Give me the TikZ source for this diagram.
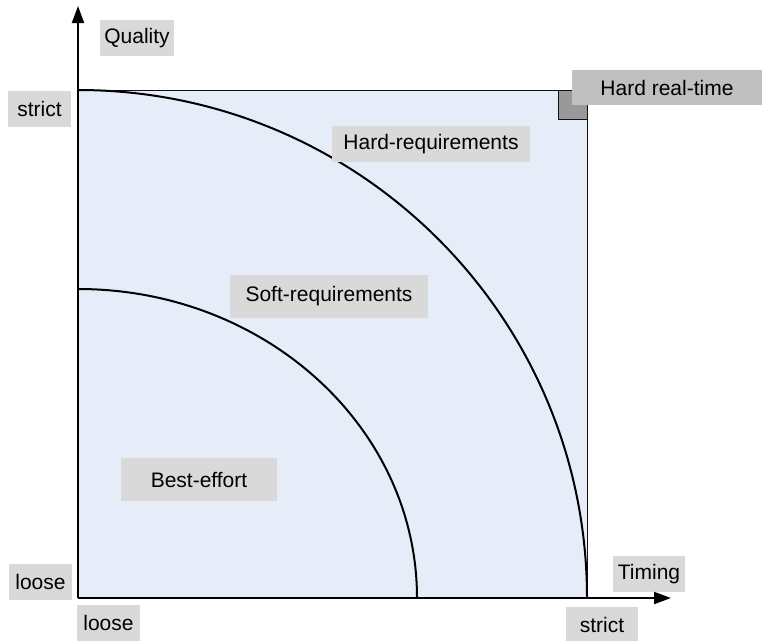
\documentclass[tikz,border=0pt]{standalone}
\usepackage{fontspec}
\setmainfont{Liberation Sans}
\usepackage{tikz}
\usetikzlibrary{arrows.meta}
\definecolor{cArea}{HTML}{E6EDF8}
\definecolor{cTag}{HTML}{D9D9D9}
\definecolor{cHard}{HTML}{C0C0C0}
\definecolor{cCorner}{HTML}{999999}
\definecolor{cInk}{HTML}{111111}
\tikzset{
  tag/.style   = {fill=cTag, inner sep=0pt, minimum height=27pt,
                  font=\fontsize{15.75}{18}\selectfont, text=black},
  axis/.style  = {-{Triangle[length=12.75pt, width=9pt]}, line width=1.5pt, draw=black},
  curve/.style = {line width=1.5pt, draw=black},
  frame/.style = {line width=0.75pt, draw=cInk},
}

\begin{document}
\begin{tikzpicture}[x=0.75pt, y=-0.75pt]
  \useasboundingbox (0,0) rectangle (762,640);
  % ---- region and corner ----
  \coordinate (o) at (78,598);
  \coordinate (qend) at (78,6);
  \coordinate (tend) at (671,598);
  \coordinate (hardtop) at (78,90);
  \coordinate (softtop) at (78,289);
  \draw[frame, fill=cArea] (hardtop) rectangle (587,598);
  \draw[curve] (hardtop) arc[start angle=-90, end angle=0, x radius=509, y radius=508];
  \draw[curve] (softtop) arc[start angle=-90, end angle=0, x radius=339, y radius=309];
  \draw[frame, fill=cCorner] (558,90) rectangle (587,119);
  % ---- labels ----
  \node[tag, minimum width=55.5pt] (quality) at (137,38) {Quality};
  \node[tag, minimum width=47.25pt] (qstrict) at (39.5,108.5) {strict};
  \node[tag, minimum width=47.25pt] (qloose) at (40.5,582) {loose};
  \node[tag, minimum width=47.25pt] (tloose) at (108.5,623) {loose};
  \node[tag, minimum width=54pt] (tstrict) at (602,625) {strict};
  \node[tag, minimum width=54pt] (timing) at (649,574) {Timing};
  \node[tag, fill=cHard, minimum width=142.5pt, minimum height=26.25pt]
    (realtime) at (667,87.5) {Hard real-time};
  \node[tag, minimum width=148.5pt] (hard) at (431,144) {Hard-requirements};
  \node[tag, minimum width=148.5pt, minimum height=32.25pt]
    (soft) at (329,296.5) {Soft-requirements};
  \node[tag, minimum width=117pt, minimum height=32.25pt]
    (best) at (199,479.5) {Best-effort};
  % ---- axes ----
  \draw[axis] (o) -- (qend);
  \draw[axis] (o) -- (tend);
\end{tikzpicture}
\end{document}
